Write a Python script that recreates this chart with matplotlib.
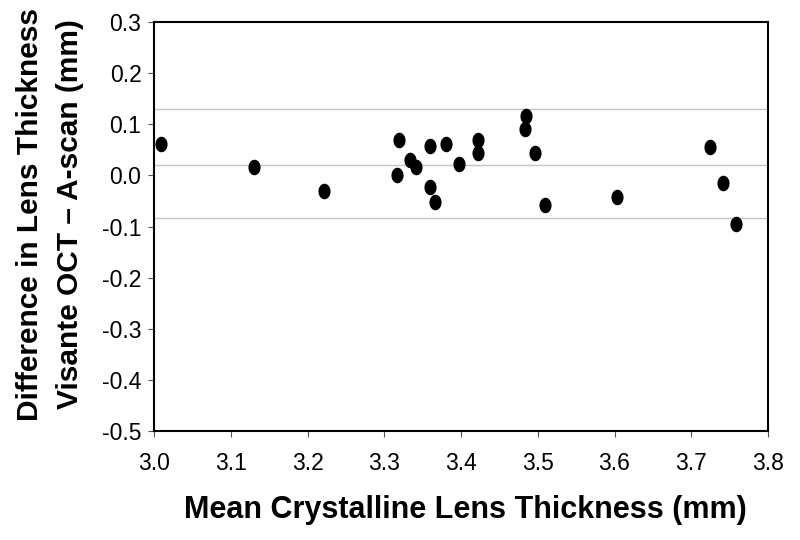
import numpy as np
import matplotlib
matplotlib.use("Agg")
import matplotlib.pyplot as plt
from matplotlib.path import Path

mean_thickness = [3.009, 3.130, 3.221, 3.316, 3.319, 3.334, 3.342, 3.360, 3.360, 3.366,
                  3.380, 3.398, 3.422, 3.422, 3.483, 3.485, 3.496, 3.510, 3.603, 3.725,
                  3.742, 3.758]
difference = [0.062, 0.016, -0.030, 0.000, 0.069, 0.031, 0.016, 0.058, -0.023, -0.053,
              0.062, 0.023, 0.070, 0.043, 0.090, 0.116, 0.043, -0.057, -0.042, 0.055,
              -0.015, -0.096]
ref_lines = [0.129, 0.0195, -0.084]
x_ticks = [3.0, 3.1, 3.2, 3.3, 3.4, 3.5, 3.6, 3.7, 3.8]
y_ticks = [0.3, 0.2, 0.1, 0.0, -0.1, -0.2, -0.3, -0.4, -0.5]

plt.rcParams['font.family'] = ['Liberation Sans', 'DejaVu Sans']

W, H = 800, 540
fig = plt.figure(figsize=(8, 5.4), dpi=100)
ax = fig.add_axes([154 / W, 1 - 431 / H, (768 - 154) / W, (431 - 22) / H])

for v in ref_lines:
    ax.axhline(v, color='#c4c4c4', lw=1.0, zorder=1)

t = np.linspace(0, 2 * np.pi, 60)
ell = Path(np.column_stack([0.78 * np.cos(t), np.sin(t)]), closed=True)
ax.scatter(mean_thickness, difference, marker=ell, s=125, color='black', zorder=3, linewidths=0)

ax.set_xlim(3.0, 3.8)
ax.set_ylim(-0.5, 0.3)
ax.set_xticks(x_ticks)
ax.set_yticks(y_ticks)
ax.set_xticklabels([f"{v:.1f}" for v in x_ticks], fontsize=16.5)
ax.set_yticklabels([f"{v:.1f}" for v in y_ticks], fontsize=16.5)
ax.tick_params(direction='out', length=4, width=0.8, color='#555555')
ax.tick_params(axis='x', pad=11)
ax.tick_params(axis='y', pad=5)
for s in ax.spines.values():
    s.set_linewidth(1.5)
    s.set_color('black')

fig.text(465 / W, 1 - 510 / H, "Mean Crystalline Lens Thickness (mm)", fontsize=22,
         fontweight='bold', ha='center', va='center')
fig.text(30 / W, 1 - 214 / H, "Difference in Lens Thickness", fontsize=21.5,
         fontweight='bold', ha='center', va='center', rotation=90)
fig.text(70 / W, 1 - 214 / H, "Visante OCT \u2013 A-scan (mm)", fontsize=21.5,
         fontweight='bold', ha='center', va='center', rotation=90)

fig.savefig("out.png", dpi=100)
